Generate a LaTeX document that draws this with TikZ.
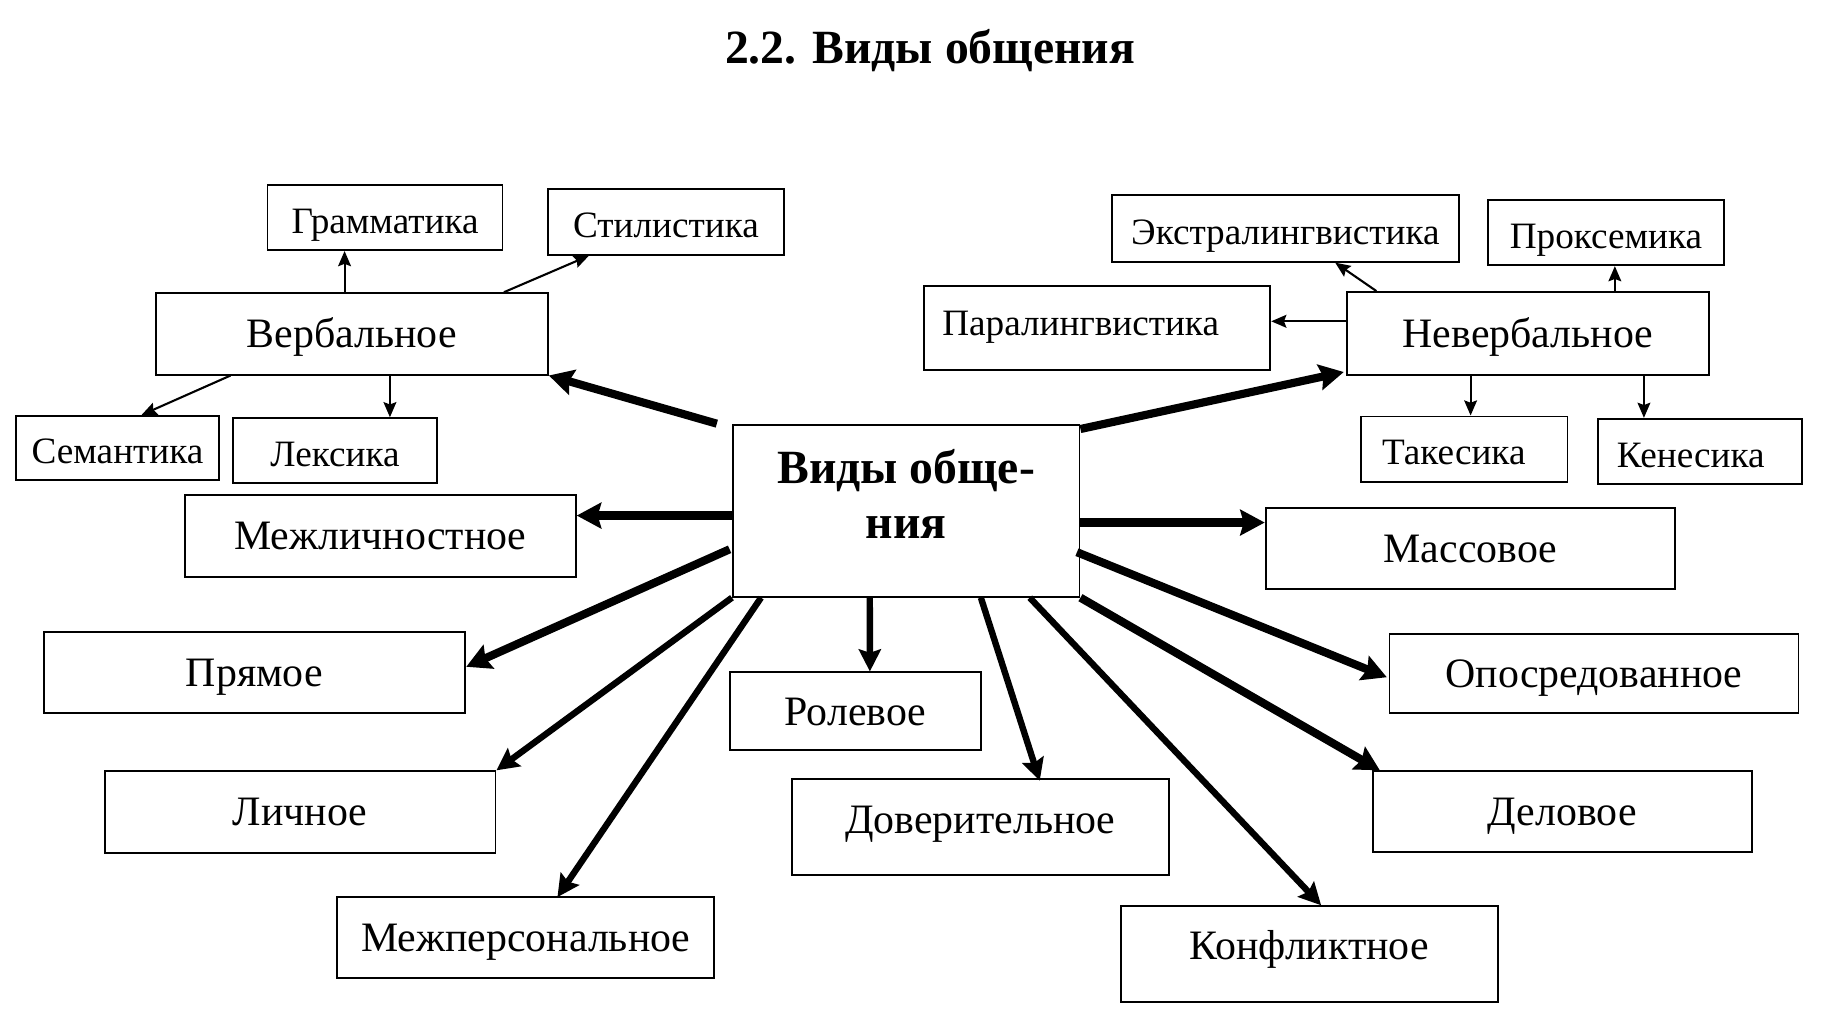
\documentclass[tikz,border=0pt]{standalone}
\usepackage{fontspec}
\setmainfont{Liberation Serif}
\usetikzlibrary{arrows.meta,calc}
\begin{document}
\begin{tikzpicture}[x=1pt,y=-1pt,
  sz/.style 2 args={minimum width=#1pt, minimum height=#2pt},
  box/.style={draw, line width=1.6pt, rectangle, inner sep=0pt},
  big/.style={box, font=\fontsize{36}{40}\selectfont, text height=27pt, text depth=3.2pt},
  small/.style={box, font=\fontsize{32}{36}\selectfont, text height=30pt, text depth=2.8pt},
  heading/.style={font=\bfseries\fontsize{41}{47}\selectfont, inner sep=0pt},
  thinarr/.style={line width=1.8pt, -{Stealth[length=13pt,width=11pt,inset=2pt]}},
  thickarr/.style={line width=7pt, -{Stealth[length=21pt,width=22pt,inset=3pt]}},
  medarr/.style={line width=5.5pt, -{Stealth[length=19pt,width=19pt,inset=3pt]}}
]
\useasboundingbox[fill=white] (0,0) rectangle (1568,872.5);

\node[heading, anchor=base] (title) at (799.5,54.5) {2.2. Виды общения};

% centre
\node[box, sz={298}{148}] (c) at (779,439) {};
\node[heading, align=center] (ctext) at (779,424.5) {Виды обще-\\ния};

% verbal branch
\node[small, sz={202}{56}] (gram) at (331,187) {Грамматика};
\node[small, sz={203}{56.5}] (stil) at (572.5,190.8) {Стилистика};
\node[big, sz={337}{70}] (verb) at (302.5,287) {Вербальное};
\node[small, sz={174}{55}] (sem) at (101,385) {Семантика};
\node[small, sz={176}{56}] (lex) at (288,387.5) {Лексика};

% nonverbal branch
\node[small, sz={298}{57.4}] (extra) at (1105,196.3) {Экстралингвистика};
\node[small, sz={203}{56}] (prox) at (1380.5,200) {Проксемика};
\node[small, sz={298}{72}, text depth=16.8pt] (para) at (943,282) {\hspace*{-28pt}Паралингвистика};
\node[big, sz={311}{71}] (nev) at (1313.5,286.5) {Невербальное};
\node[small, sz={177.5}{56}] (tak) at (1258.75,386) {\hspace*{-18pt}Такесика};
\node[small, sz={175}{56}] (ken) at (1461.5,388) {\hspace*{-16pt}Кенесика};

% other kinds
\node[big, sz={336}{70.4}] (mezhl) at (327,460.8) {Межличностное};
\node[big, sz={352}{69.5}] (mass) at (1264,471.75) {Массовое};
\node[big, sz={362.5}{70}] (pryam) at (218.75,578) {Прямое};
\node[big, sz={351.5}{68}] (opos) at (1370.25,579) {Опосредованное};
\node[big, sz={215.4}{67}] (rol) at (735.3,611.5) {Ролевое};
\node[big, sz={336}{70}] (lich) at (258,698) {Личное};
\node[big, sz={326}{69.5}] (del) at (1343,697.75) {Деловое};
\node[big, sz={324.4}{82}, text depth=15.2pt] (dov) at (842.8,711) {Доверительное};
\node[big, sz={324}{70}] (mezhp) at (452,806) {Межперсональное};
\node[big, sz={324}{82}, text depth=17.2pt] (konf) at (1125.5,820) {Конфликтное};

% thin arrows, verbal
\draw[thinarr] ($(verb.north west)+(163,0)$) -- ($(gram.south west)+(67,0)$);
\draw[thinarr] ($(verb.north west)+(300,0)$) -- ($(stil.south west)+(36,0)$);
\draw[thinarr] ($(verb.south west)+(65,0)$) -- ($(sem.north west)+(108.5,0)$);
\draw[thinarr] ($(verb.south west)+(202,0)$) -- ($(lex.north west)+(136,0)$);

% thin arrows, nonverbal
\draw[thinarr] ($(nev.north west)+(26,0)$) -- ($(extra.south west)+(192.6,0)$);
\draw[thinarr] ($(nev.north west)+(231,0)$) -- ($(prox.south west)+(110,0)$);
\draw[thinarr] ($(nev.north west)+(0,26)$) -- ($(para.north east)+(0,31)$);
\draw[thinarr] ($(nev.south west)+(107,0)$) -- ($(tak.north west)+(95,0)$);
\draw[thinarr] ($(nev.south west)+(256,0)$) -- ($(ken.north west)+(40,0)$);

% thick arrows from centre
\draw[thickarr] ($(c.north west)+(-13,0)$) -- (verb.south east);
\draw[thickarr] ($(c.north east)+(0,4.6)$) -- ($(nev.south west)+(-2,-3)$);
\draw[thickarr] ($(c.north west)+(0,79)$) -- ($(mezhl.north east)+(0,18.4)$);
\draw[thickarr] ($(c.north east)+(-1,85)$) -- ($(mass.north west)+(0,13)$);
\draw[thickarr] ($(c.north west)+(-2,108)$) -- ($(pryam.north east)+(0,31)$);
\draw[thickarr] ($(c.north east)+(-3,110.5)$) -- ($(opos.north west)+(-1.5,38)$);
\draw[thickarr] (c.south east) -- ($(del.north west)+(7,0)$);
\draw[medarr] (c.south west) -- (lich.north east);
\draw[medarr] ($(c.south west)+(25,0)$) -- ($(mezhp.north west)+(190,1)$);
\draw[medarr] ($(c.south west)+(118.5,0)$) -- ($(rol.north west)+(121,0)$);
\draw[medarr] ($(c.south west)+(214,0)$) -- ($(dov.north west)+(214,2)$);
\draw[medarr] ($(c.south west)+(256,0)$) -- ($(konf.north west)+(173,0)$);
\end{tikzpicture}
\end{document}
